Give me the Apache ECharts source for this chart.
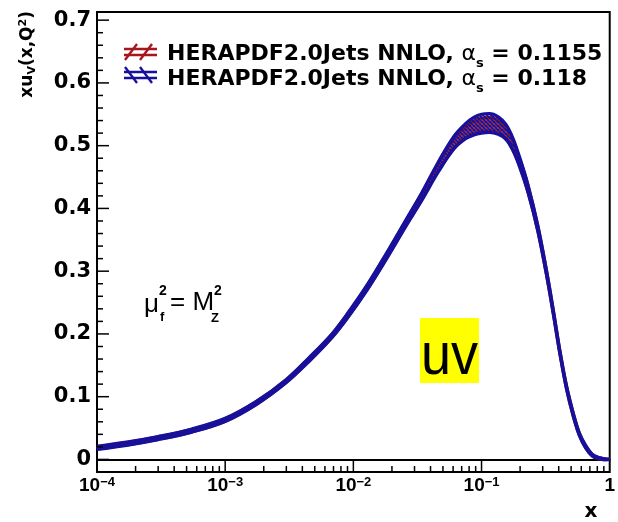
<!DOCTYPE html>
<html>
<head>
<meta charset="utf-8">
<script src="https://cdn.jsdelivr.net/npm/echarts@6/dist/echarts.min.js"></script>
<style>
  html, body { margin: 0; padding: 0; background: #fff; }
  #chart { width: 618px; height: 522px; }
</style>
</head>
<body>
<div id="chart"></div>
<script>
// x grid of the valence-u distribution, Q^2 = M_Z^2
const xGrid = [1e-4, 1.7e-4, 3e-4, 5.5e-4, 1e-3, 1.75e-3, 3e-3, 4.5e-3, 6.8e-3, 9e-3,
  0.0128, 0.018, 0.0256, 0.034, 0.046, 0.061, 0.075, 0.087, 0.1, 0.115,
  0.135, 0.155, 0.175, 0.195, 0.23, 0.275, 0.325, 0.365, 0.41, 0.46,
  0.52, 0.58, 0.65, 0.73, 0.82, 0.9, 1.0];

// alpha_s = 0.118: central values and half-widths of the uncertainty band
const uv118 = [0.0185, 0.025, 0.034, 0.046, 0.063, 0.090, 0.125, 0.159, 0.197, 0.229,
  0.274, 0.323, 0.376, 0.418, 0.466, 0.505, 0.523, 0.531, 0.535, 0.536,
  0.532, 0.522, 0.503, 0.478, 0.432, 0.368, 0.292, 0.232, 0.169, 0.115,
  0.071, 0.040, 0.020, 0.007, 0.002, 0.0005, 0.0];
const err118 = [0.0025, 0.0025, 0.0025, 0.0025, 0.0025, 0.0025, 0.0025, 0.003, 0.003, 0.0035,
  0.004, 0.0045, 0.005, 0.006, 0.008, 0.010, 0.012, 0.014, 0.015, 0.015,
  0.014, 0.012, 0.010, 0.008, 0.006, 0.0045, 0.0035, 0.003, 0.0025, 0.0025,
  0.0025, 0.002, 0.002, 0.0015, 0.001, 0.001, 0.0];

// alpha_s = 0.1155
const uv1155 = [0.0185, 0.025, 0.034, 0.046, 0.063, 0.090, 0.125, 0.159, 0.197, 0.229,
  0.274, 0.323, 0.376, 0.418, 0.466, 0.504, 0.521, 0.529, 0.533, 0.534,
  0.530, 0.521, 0.502, 0.478, 0.432, 0.368, 0.292, 0.232, 0.169, 0.115,
  0.071, 0.040, 0.020, 0.007, 0.002, 0.0005, 0.0];
const err1155 = [0.002, 0.002, 0.002, 0.002, 0.002, 0.002, 0.002, 0.0025, 0.0025, 0.003,
  0.003, 0.0035, 0.004, 0.005, 0.006, 0.008, 0.009, 0.010, 0.011, 0.011,
  0.010, 0.009, 0.008, 0.006, 0.005, 0.0035, 0.003, 0.0025, 0.002, 0.002,
  0.002, 0.0015, 0.0015, 0.001, 0.001, 0.001, 0.0];

const legendLabels = ['0.1155', '0.118'];
const RED = '#a5161d';
const BLUE = '#16109a';

const X_MIN = 1e-4, X_MAX = 1;
const Y_MIN = -0.02, Y_MAX = 0.713;
const SMOOTH = 0.35;

function hatch(color, dir) {
  const c = document.createElement('canvas');
  c.width = 4; c.height = 4;
  const g = c.getContext('2d');
  g.strokeStyle = color;
  g.lineWidth = 2;
  g.beginPath();
  for (let k = -4; k <= 8; k += 4) {
    if (dir > 0) { g.moveTo(k, 4); g.lineTo(k + 4, 0); }
    else { g.moveTo(k, 0); g.lineTo(k + 4, 4); }
  }
  g.stroke();
  return c;
}

// one uncertainty band: hatched fill between the edges plus both edge lines
function bandSeries(id, centre, err, color, dir, z) {
  const lower = xGrid.map((x, i) => [x, centre[i] - err[i]]);
  const upper = xGrid.map((x, i) => [x, centre[i] + err[i]]);
  const pattern = { image: hatch(color, dir), repeat: 'repeat' };
  const line = { color: color, width: 3.2 };
  return [
    { id: id + '-fill', type: 'custom', z: z, silent: true, data: [[1e-3, 0.1]],
      renderItem: function (params, api) {
        const pts = upper.map(p => api.coord(p))
          .concat(lower.slice().reverse().map(p => api.coord(p)));
        return { type: 'polygon', shape: { points: pts, smooth: SMOOTH }, style: { fill: pattern } };
      } },
    { id: id + '-lo', type: 'line', data: lower, showSymbol: false, smooth: SMOOTH,
      lineStyle: line, itemStyle: { color: color }, z: z + 1 },
    { id: id + '-hi', type: 'line', data: upper, showSymbol: false, smooth: SMOOTH,
      lineStyle: line, itemStyle: { color: color }, z: z + 1 }
  ];
}

// inward ticks of both axes: long at decades / tenths, short in between
function renderTicks(params, api) {
  const kids = [];
  const stroke = { stroke: '#000', lineWidth: 1.5 };
  for (let d = -4; d <= -1; d++) {
    for (let k = 1; k <= 9; k++) {
      const p = api.coord([k * Math.pow(10, d), Y_MIN]);
      const len = k === 1 ? 12 : 6;
      kids.push({ type: 'line', shape: { x1: p[0], y1: p[1], x2: p[0], y2: p[1] - len }, style: stroke });
    }
  }
  for (let i = -1; i <= 35; i++) {
    const v = i * 0.02;
    const p = api.coord([X_MIN, v]);
    const len = (i % 5 === 0) ? 12 : 6;
    kids.push({ type: 'line', shape: { x1: p[0], y1: p[1], x2: p[0] + len, y2: p[1] }, style: stroke });
  }
  return { type: 'group', children: kids };
}

function legendIcon(y, color, dir) {
  const kids = [];
  const s = { stroke: color, lineWidth: 2.4 };
  kids.push({ type: 'line', shape: { x1: 124, y1: y - 3, x2: 157, y2: y - 3 }, style: s });
  kids.push({ type: 'line', shape: { x1: 124, y1: y + 3, x2: 157, y2: y + 3 }, style: s });
  [131, 146].forEach(cx => {
    kids.push({ type: 'line',
      shape: dir > 0 ? { x1: cx - 6, y1: y + 8, x2: cx + 6, y2: y - 8 }
                     : { x1: cx - 6, y1: y - 8, x2: cx + 6, y2: y + 8 },
      style: s });
  });
  return { type: 'group', children: kids };
}

function legendText(y, val) {
  return {
    type: 'text', x: 167, y: y,
    style: {
      text: '{t|HERAPDF2.0Jets NNLO, }{a|α}{s|s}{t| = ' + val + '}',
      verticalAlign: 'middle', align: 'left',
      rich: {
        t: { fontFamily: 'DejaVu Sans', fontWeight: 'bold', fontSize: 22, fill: '#000', verticalAlign: 'top', padding: [0, 0, 5, 0] },
        a: { fontFamily: 'DejaVu Sans', fontSize: 22, fill: '#000', verticalAlign: 'top', padding: [0, 0, 5, 0] },
        s: { fontFamily: 'DejaVu Sans', fontWeight: 'bold', fontSize: 13, fill: '#000', verticalAlign: 'bottom' }
      }
    }
  };
}

const chart = echarts.init(document.getElementById('chart'), null, { renderer: 'canvas' });

chart.setOption({
  backgroundColor: '#fff',
  animation: false,
  grid: { left: 97, top: 12, width: 531, height: 460, show: true,
          borderColor: '#000', borderWidth: 2, backgroundColor: 'transparent' },
  xAxis: {
    type: 'log', logBase: 10, min: X_MIN, max: X_MAX,
    axisLine: { show: true, lineStyle: { color: '#000', width: 2 } },
    axisTick: { show: false },
    splitLine: { show: false },
    axisLabel: {
      margin: 4, color: '#000',
      formatter: function (v) {
        const e = Math.round(Math.log10(v));
        if (e === 0) return '{b|1}';
        return '{b|10}{s|' + (e < 0 ? '−' : '') + Math.abs(e) + '}';
      },
      rich: {
        b: { fontFamily: 'Liberation Sans', fontWeight: 'bold', fontSize: 19, lineHeight: 19, verticalAlign: 'bottom', color: '#000' },
        s: { fontFamily: 'Liberation Sans', fontWeight: 'bold', fontSize: 13, lineHeight: 13, verticalAlign: 'top', padding: [0, 0, 9, 0], color: '#000' }
      }
    }
  },
  yAxis: {
    type: 'value', min: Y_MIN, max: Y_MAX, interval: 0.02,
    axisLine: { show: true, lineStyle: { color: '#000', width: 2 } },
    axisTick: { show: false },
    splitLine: { show: false },
    axisLabel: {
      margin: 6, color: '#000', fontFamily: 'DejaVu Sans', fontWeight: 'bold', fontSize: 21,
      formatter: function (v) {
        const t = v * 10;
        if (Math.abs(t - Math.round(t)) > 1e-6 || v < -1e-9) return '';
        const r = Math.round(t);
        return r === 0 ? '0' : (r / 10).toFixed(1);
      }
    }
  },
  series: [
    ...bandSeries('a1155', uv1155, err1155, RED, 1, 2),
    ...bandSeries('a118', uv118, err118, BLUE, -1, 4),
    { type: 'custom', renderItem: renderTicks, data: [[1e-3, 0.1]], silent: true, z: 8, clip: false }
  ],
  graphic: [
    legendIcon(52, RED, 1),
    legendIcon(75, BLUE, -1),
    legendText(57, legendLabels[0]),
    legendText(82, legendLabels[1]),
    // y-axis title
    { type: 'text', x: 28, y: 11, rotation: Math.PI / 2,
      style: { text: '{b|xu}{sub|V}{b|(x,Q}{sup|2}{b|)}', align: 'right', verticalAlign: 'middle',
        rich: {
          b: { fontFamily: 'DejaVu Sans', fontWeight: 'bold', fontSize: 17, fill: '#000', verticalAlign: 'middle', lineHeight: 20 },
          sub: { fontFamily: 'DejaVu Sans', fontWeight: 'bold', fontSize: 11, fill: '#000', verticalAlign: 'bottom', lineHeight: 11 },
          sup: { fontFamily: 'DejaVu Sans', fontWeight: 'bold', fontSize: 11, fill: '#000', verticalAlign: 'top', lineHeight: 11 }
        } } },
    // x-axis title
    { type: 'text', x: 591, y: 512,
      style: { text: 'x', align: 'center', verticalAlign: 'middle',
        fontFamily: 'DejaVu Sans', fontWeight: 'bold', fontSize: 20, fill: '#000' } },
    // factorisation scale
    { type: 'text', x: 144, y: 305, style: { text: 'μ', fontFamily: 'Liberation Sans', fontSize: 26, fill: '#000', verticalAlign: 'middle' } },
    { type: 'text', x: 159, y: 291, style: { text: '2', fontFamily: 'Liberation Sans', fontWeight: 'bold', fontSize: 14, fill: '#000', verticalAlign: 'middle' } },
    { type: 'text', x: 160, y: 317, style: { text: 'f', fontFamily: 'Liberation Sans', fontWeight: 'bold', fontSize: 13, fill: '#000', verticalAlign: 'middle' } },
    { type: 'text', x: 170, y: 303, style: { text: '= M', fontFamily: 'Liberation Sans', fontSize: 26, fill: '#000', verticalAlign: 'middle' } },
    { type: 'text', x: 214, y: 291, style: { text: '2', fontFamily: 'Liberation Sans', fontWeight: 'bold', fontSize: 14, fill: '#000', verticalAlign: 'middle' } },
    { type: 'text', x: 211, y: 318, style: { text: 'Z', fontFamily: 'Liberation Sans', fontWeight: 'bold', fontSize: 13, fill: '#000', verticalAlign: 'middle' } },
    // distribution tag
    { type: 'rect', shape: { x: 420, y: 318, width: 59, height: 65 }, style: { fill: '#ffff00' }, z: 10 },
    { type: 'text', x: 449.5, y: 357, scaleX: 0.9, z: 11,
      style: { text: 'uv', align: 'center', verticalAlign: 'middle', fontFamily: 'Liberation Sans', fontSize: 60, fill: '#000' } }
  ]
});
</script>
</body>
</html>
